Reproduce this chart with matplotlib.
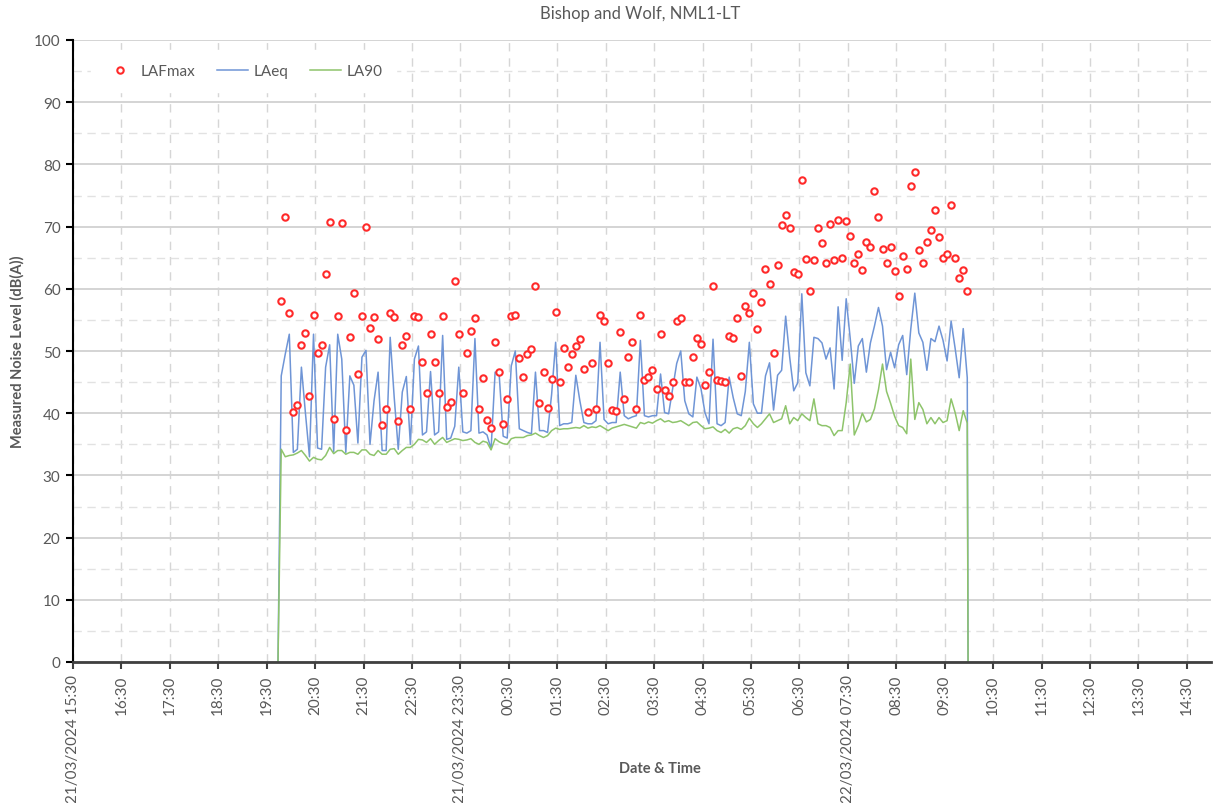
import matplotlib
matplotlib.use("Agg")
from matplotlib import pyplot as plt
from matplotlib.ticker import MultipleLocator
import pandas as pd

# 5-minute readings, 21/03/2024 19:48 -> 22/03/2024 09:58
start = "2024-03-21 19:48"
lafmax = [58.1, 71.6, 56.1, 40.2, 41.3, 50.9, 52.9, 42.8, 55.8, 49.6,
          51.0, 62.3, 70.7, 39.0, 55.6, 70.5, 37.3, 52.2, 59.4, 46.3,
          55.6, 70.0, 53.7, 55.4, 51.9, 38.1, 40.6, 56.1,
          55.5, 38.7, 51.0, 52.4, 40.6, 55.7, 55.4, 48.3, 43.2, 52.8,
          48.2, 43.2, 55.6, 41.0, 41.8, 61.3, 52.8, 43.3, 49.7, 53.2,
          55.3, 40.6, 45.7, 38.9, 37.7, 51.4, 46.6, 38.3, 42.3,
          55.7, 55.8, 48.9, 45.9, 49.5, 50.3, 60.5, 41.7, 46.6, 40.9,
          45.5, 56.3, 45.0, 50.5, 47.5, 49.5, 50.8, 51.9, 47.1, 40.2,
          48.1, 40.6, 55.8, 54.8, 48.0, 40.5, 40.4, 53.0,
          42.3, 49.1, 51.4, 40.6, 55.8, 45.4, 45.9, 47.0, 43.9, 52.8,
          43.7, 42.7, 45.0, 54.9, 55.3, 45.0, 45.0, 49.1, 52.1, 51.2,
          44.6, 46.6, 60.4, 45.4, 45.1, 45.0, 52.4, 52.1, 55.3,
          46.0, 57.2, 56.1, 59.4, 53.5, 57.8, 63.2, 60.7, 49.6, 63.8,
          70.3, 71.9, 69.7, 62.7, 62.4, 77.5, 64.8, 59.6, 64.6, 69.8,
          67.3, 64.1, 70.4, 64.6, 71.1, 64.9, 70.9, 68.5, 64.2,
          65.6, 63.0, 67.6, 66.7, 75.8, 71.6, 66.4, 64.1, 66.7, 62.8,
          58.8, 65.2, 63.2, 76.5, 78.7, 66.2, 64.1, 67.6, 69.5, 72.7,
          68.3, 65.0, 65.6, 73.4, 65.0, 61.8, 63.0, 59.7]
laeq = [46.0, 49.5, 52.7, 33.7, 34.2, 47.4, 40.0, 33.0, 52.7, 34.4,
        34.2, 47.4, 51.0, 33.8, 52.7, 48.7, 33.7, 46.0, 44.5, 35.2,
        49.0, 50.1, 35.0, 42.0, 46.6, 34.0, 34.0, 52.2, 42.5, 34.2,
        43.4, 45.9, 35.0, 48.7, 50.8, 36.5, 37.0, 46.7, 36.5, 37.0,
        52.5, 35.8, 36.0, 37.9, 47.4, 37.0, 36.8, 37.2, 52.0, 36.8,
        37.0, 36.5, 34.2, 46.6, 46.3, 36.3, 36.0, 47.6, 50.0, 37.5,
        37.2, 36.9, 36.7, 46.6, 37.2, 37.2, 36.9, 43.0, 51.4, 38.0,
        38.3, 38.3, 38.5, 46.1, 42.0, 38.5, 38.3, 38.3, 38.8, 51.4,
        39.0, 38.3, 38.5, 38.5, 46.6, 39.6, 39.1, 39.4, 39.6, 51.7,
        39.6, 39.4, 39.6, 39.6, 46.3, 40.1, 39.9, 44.0, 48.0, 50.0,
        42.0, 39.9, 39.4, 45.8, 44.0, 40.1, 38.3, 51.9, 38.3, 38.0,
        38.5, 45.8, 42.5, 39.9, 39.6, 43.5, 51.4, 41.5, 40.0, 40.0,
        46.0, 48.1, 40.5, 46.1, 46.9, 55.6, 49.0, 43.6, 44.9, 59.2,
        46.5, 44.4, 52.2, 52.0, 51.3, 48.7, 50.5, 43.9, 57.1, 48.5,
        58.4, 52.0, 44.8, 50.8, 52.0, 46.6, 51.3, 54.0, 57.0, 54.0,
        47.0, 49.8, 47.3, 51.0, 52.5, 46.2, 53.5, 59.3, 52.9, 51.4,
        46.9, 52.0, 51.5, 54.0, 51.7, 48.4, 54.8, 50.4, 45.7, 53.6,
        45.7]
la90 = [34.2, 33.0, 33.2, 33.3, 33.6, 34.0, 33.2, 32.3, 32.9, 32.6,
        32.5, 33.2, 34.5, 33.5, 34.0, 34.0, 33.4, 33.7, 33.7, 33.4,
        34.1, 34.1, 33.4, 33.2, 34.0, 33.4, 33.4, 34.2, 34.3, 33.4,
        34.0, 34.5, 34.5, 35.0, 35.8, 35.7, 35.3, 35.9, 35.0, 35.6,
        36.1, 35.3, 35.6, 35.9, 35.8, 35.6, 35.7, 35.9, 35.3, 35.0,
        35.5, 35.3, 34.1, 35.9, 35.4, 35.1, 35.0, 35.9, 36.1, 36.1,
        36.1, 36.4, 36.5, 36.8, 36.4, 36.1, 36.4, 37.2, 37.6, 37.4,
        37.5, 37.5, 37.6, 37.7, 37.6, 38.0, 37.6, 37.8, 37.7, 38.0,
        37.6, 37.2, 37.6, 37.8, 38.0, 38.2, 38.0, 37.8, 37.6, 38.5,
        38.3, 38.6, 38.4, 38.8, 39.1, 38.6, 38.8, 38.5, 38.6, 38.8,
        38.4, 38.0, 38.5, 38.6, 38.0, 37.5, 37.6, 37.8, 37.2, 36.9,
        37.4, 36.8, 37.5, 37.7, 37.4, 38.0, 39.2, 38.3, 37.7, 38.3,
        39.1, 39.9, 38.5, 38.8, 39.1, 41.2, 38.3, 39.3, 38.8, 39.9,
        39.3, 38.8, 42.3, 38.3, 38.0, 38.0, 37.7, 36.4, 37.2, 37.2,
        41.7, 47.9, 36.5, 38.0, 40.0, 38.6, 39.0, 40.7, 43.8, 47.9,
        43.5, 41.6, 39.5, 38.0, 37.7, 36.7, 48.7, 39.0, 41.7, 40.6,
        38.3, 39.3, 38.3, 39.3, 38.5, 38.8, 42.3, 40.1, 37.2, 40.4,
        38.4]

tick_labels = ["21/03/2024 15:30", "16:30", "17:30", "18:30", "19:30", "20:30",
               "21:30", "22:30", "21/03/2024 23:30", "00:30", "01:30", "02:30",
               "03:30", "04:30", "05:30", "06:30", "22/03/2024 07:30", "08:30",
               "09:30", "10:30", "11:30", "12:30", "13:30", "14:30"]

t_pts = pd.date_range(start, periods=len(lafmax), freq="5min")
# logger rows with zero levels just before/after the survey
t_line = [pd.Timestamp("2024-03-21 19:44")] + list(t_pts) + [pd.Timestamp("2024-03-22 09:59")]
laeq_line = [0] + laeq + [0]
la90_line = [0] + la90 + [0]
tick_times = pd.date_range("2024-03-21 15:30", periods=len(tick_labels), freq="h")

GREY = "#595959"
plt.rcParams["font.family"] = ["Lato", "DejaVu Sans"]

fig = plt.figure(figsize=(12.17, 8.04), dpi=100)
ax = fig.add_axes([73 / 1217, 1 - 663 / 804, (1211 - 73) / 1217, (663 - 41) / 804])

h_eq, = ax.plot(t_line, laeq_line, color="#6f95d6", lw=1.1, label="LAeq", zorder=2)
h_90, = ax.plot(t_line, la90_line, color="#8ec46b", lw=1.1, label="LA90", zorder=2.1)
h_max, = ax.plot(t_pts, lafmax, ls="none", marker="o", ms=4.6, mfc="white",
                 mec="#ff2a2a", mew=1.5, label="LAFmax", zorder=3)

ax.set_xlim(pd.Timestamp("2024-03-21 15:30"), pd.Timestamp("2024-03-22 15:00"))
ax.set_ylim(0, 100)
ax.set_yticks(range(0, 101, 10))
ax.yaxis.set_minor_locator(MultipleLocator(5))
ax.set_xticks(tick_times)
ax.set_xticklabels(tick_labels, rotation=90, ha="center", va="top")

ax.grid(axis="y", which="major", color="#d4d4d4", lw=1.4, ls="-", zorder=0)
ax.grid(axis="y", which="minor", color="#e2e2e2", lw=1.0, ls=(0, (6, 4)), zorder=0)
ax.grid(axis="x", which="major", color="#d6d6d6", lw=1.0, ls=(0, (6, 5)), zorder=0)
ax.set_axisbelow(True)

for s in ["top", "right"]:
    ax.spines[s].set_visible(False)
ax.spines["left"].set_color("black")
ax.spines["left"].set_linewidth(1.5)
ax.spines["bottom"].set_color("#404040")
ax.spines["bottom"].set_linewidth(2)
ax.spines["bottom"].set_zorder(4)

ax.tick_params(axis="y", which="major", direction="out", length=5, width=1.5,
               color="black", labelcolor=GREY, labelsize=11, pad=4)
ax.tick_params(axis="y", which="minor", length=0)
ax.tick_params(axis="x", direction="out", length=5, width=1.5, color="#404040",
               labelcolor=GREY, labelsize=11, pad=4)

leg = ax.legend(handles=[h_max, h_eq, h_90], loc="center left", bbox_to_anchor=(0.009, 0.95),
                ncol=3, fontsize=11, handlelength=2.0, columnspacing=1.45, handletextpad=0.35,
                frameon=True, facecolor="white", edgecolor="white", framealpha=1,
                borderpad=0.9, numpoints=1, labelcolor=GREY)
leg.get_frame().set_boxstyle("square", pad=0)

fig.text(640 / 1217, 1 - 14 / 804, "Bishop and Wolf, NML1-LT", ha="center", va="center",
         fontsize=12, color=GREY)
fig.text(17 / 1217, 1 - 352 / 804, "Measured Noise Level (dB(A))", ha="center", va="center",
         rotation=90, fontsize=10.5, fontweight="bold", color=GREY)
fig.text(660 / 1217, 1 - 769 / 804, "Date & Time", ha="center", va="center",
         fontsize=10.5, fontweight="bold", color=GREY)

fig.savefig("out.png", dpi=100)
